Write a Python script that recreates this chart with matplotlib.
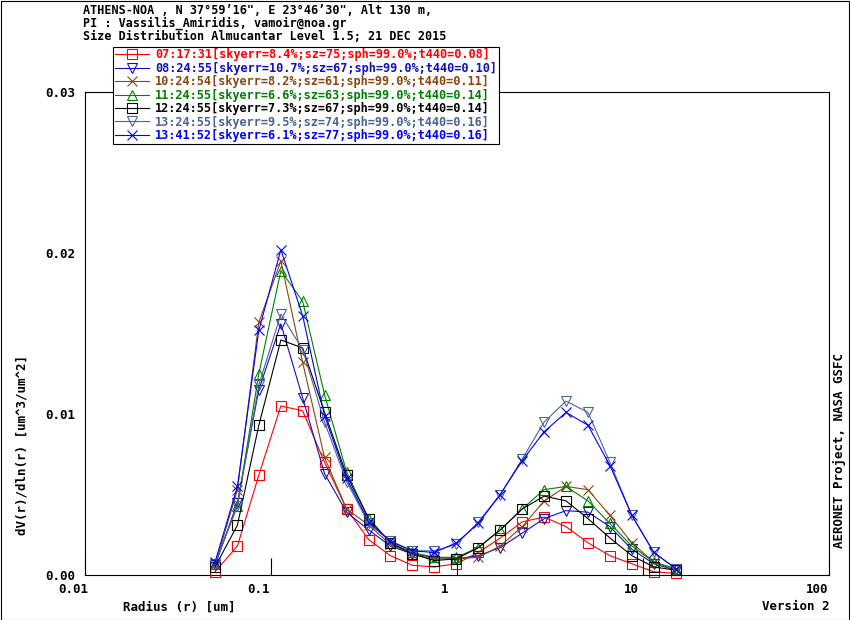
import matplotlib
matplotlib.use("Agg")
import matplotlib.pyplot as plt
import matplotlib.transforms as mtransforms
from matplotlib.patches import Rectangle

# AERONET almucantar size distribution, Athens-NOA 21 Dec 2015
radius = [0.050, 0.066, 0.086, 0.113, 0.148, 0.194, 0.255, 0.335, 0.439, 0.576, 0.756,
          0.992, 1.302, 1.708, 2.241, 2.940, 3.857, 5.061, 6.641, 8.713, 11.432, 15.000]

dv_0717 = [0.0002, 0.0018, 0.0062, 0.0105, 0.0102, 0.0070, 0.0041, 0.0022, 0.0012, 0.0006, 0.0005,
           0.0007, 0.0014, 0.0023, 0.0033, 0.0036, 0.0030, 0.0020, 0.0012, 0.0007, 0.0002, 0.0001]
dv_0824 = [0.0006, 0.0045, 0.0115, 0.0156, 0.0110, 0.0063, 0.0039, 0.0028, 0.0018, 0.0013, 0.0011,
           0.0010, 0.0012, 0.0017, 0.0026, 0.0035, 0.0040, 0.0039, 0.0030, 0.0016, 0.0007, 0.0003]
dv_1024 = [0.0006, 0.0053, 0.0157, 0.0195, 0.0132, 0.0073, 0.0041, 0.0031, 0.0019, 0.0013, 0.0010,
           0.0010, 0.0011, 0.0018, 0.0030, 0.0046, 0.0055, 0.0053, 0.0037, 0.0020, 0.0008, 0.0003]
dv_1124 = [0.0007, 0.0043, 0.0125, 0.0189, 0.0170, 0.0112, 0.0064, 0.0035, 0.0020, 0.0014, 0.0011,
           0.0011, 0.0017, 0.0028, 0.0041, 0.0053, 0.0055, 0.0046, 0.0032, 0.0018, 0.0008, 0.0004]
dv_1224 = [0.0005, 0.0031, 0.0093, 0.0146, 0.0141, 0.0101, 0.0062, 0.0035, 0.0020, 0.0013, 0.0009,
           0.0010, 0.0017, 0.0028, 0.0041, 0.0049, 0.0046, 0.0035, 0.0023, 0.0012, 0.0005, 0.0003]
dv_1324 = [0.0007, 0.0043, 0.0118, 0.0162, 0.0140, 0.0095, 0.0058, 0.0032, 0.0021, 0.0015, 0.0015,
           0.0019, 0.0033, 0.0050, 0.0072, 0.0095, 0.0108, 0.0101, 0.0070, 0.0037, 0.0014, 0.0004]
dv_1341 = [0.0008, 0.0055, 0.0152, 0.0202, 0.0161, 0.0099, 0.0060, 0.0033, 0.0021, 0.0015, 0.0014,
           0.0020, 0.0032, 0.0050, 0.0071, 0.0089, 0.0101, 0.0093, 0.0068, 0.0037, 0.0014, 0.0004]

labels = ["07:17:31[skyerr=8.4%;sz=75;sph=99.0%;t440=0.08]",
          "08:24:55[skyerr=10.7%;sz=67;sph=99.0%;t440=0.10]",
          "10:24:54[skyerr=8.2%;sz=61;sph=99.0%;t440=0.11]",
          "11:24:55[skyerr=6.6%;sz=63;sph=99.0%;t440=0.14]",
          "12:24:55[skyerr=7.3%;sz=67;sph=99.0%;t440=0.14]",
          "13:24:55[skyerr=9.5%;sz=74;sph=99.0%;t440=0.16]",
          "13:41:52[skyerr=6.1%;sz=77;sph=99.0%;t440=0.16]"]
series = [dv_0717, dv_0824, dv_1024, dv_1124, dv_1224, dv_1324, dv_1341]
colors = ["#ff0000", "#1010c0", "#8b4513", "#008000", "#000000", "#4a6496", "#0000ff"]
markers = ["s", "v", "x", "^", "s", "v", "x"]

xticks = [0.01, 0.1, 1, 10, 100]
xticklabels = ["0.01", "0.1", "1", "10", "100"]
yticks = [0.0, 0.01, 0.02, 0.03]
yticklabels = ["0.00", "0.01", "0.02", "0.03"]

mono = "DejaVu Sans Mono"
plt.rcParams["font.family"] = mono
plt.rcParams["font.weight"] = "bold"

W, H = 850, 620
fig = plt.figure(figsize=(W / 100, H / 100), dpi=100)
ax = fig.add_axes([85 / W, 1 - 575 / H, (829 - 85) / W, (575 - 92) / H])

for y, c, m, lab in zip(series, colors, markers, labels):
    ax.plot(radius, y, color=c, lw=0.8, marker=m, ms=7, mfc="none", mec=c, mew=0.8,
            label=lab, clip_on=False)

ax.set_xscale("log")
ax.set_xlim(0.01, 100)
ax.set_ylim(0, 0.03)
ax.set_xticks(xticks)
ax.set_xticklabels(xticklabels)
ax.xaxis.set_minor_locator(matplotlib.ticker.NullLocator())
ax.set_yticks(yticks)
ax.set_yticklabels(yticklabels)
ax.tick_params(axis="x", direction="in", length=12, width=0.8, pad=6, labelsize=9)
ax.tick_params(axis="y", length=0, pad=7, labelsize=9)
off = mtransforms.ScaledTranslation(-12 / 100, 0, fig.dpi_scale_trans)
for t in ax.get_xticklabels():
    t.set_transform(t.get_transform() + off)
for s in ax.spines.values():
    s.set_linewidth(0.8)

leg = ax.legend(loc="upper left", bbox_to_anchor=(113 / W, 1 - 46.5 / H),
                bbox_transform=fig.transFigure, fontsize=8.6, frameon=True,
                fancybox=False, edgecolor="black", framealpha=1, borderpad=0.15,
                borderaxespad=0, handlelength=2.9, handletextpad=0.45, labelspacing=0.04)
leg.get_frame().set_linewidth(0.8)
for t, c in zip(leg.get_texts(), colors):
    t.set_color(c)

title_lines = ["ATHENS-NOA , N 37\u00b059\u201916\", E 23\u00b046\u201930\", Alt 130 m,",
               "PI : Vassilis_Amiridis, vamoir@noa.gr",
               "Size Distribution Almucantar Level 1.5; 21 DEC 2015"]
for i, line in enumerate(title_lines):
    fig.text(83 / W, 1 - (10 + 13.5 * i) / H, line, fontsize=8.5, va="center", ha="left",
             family=[mono, "DejaVu Sans"])

fig.text(22 / W, 1 - 445 / H, "dV(r)/dln(r) [um^3/um^2]", rotation=90, fontsize=9,
         va="center", ha="center")
fig.text(123 / W, 1 - 607 / H, "Radius (r) [um]", fontsize=9, va="center", ha="left")
fig.text(830 / W, 1 - 607 / H, "Version 2", fontsize=9, va="center", ha="right")
fig.text(839 / W, 1 - 450 / H, "AERONET Project, NASA GSFC", rotation=90, fontsize=9,
         va="center", ha="center")

fig.add_artist(Rectangle((0.5 / W, 0.5 / H), (W - 1.5) / W, (H - 1.5) / H,
                         transform=fig.transFigure, fill=False, edgecolor="black", lw=0.8))

fig.savefig("out.png", dpi=100)
